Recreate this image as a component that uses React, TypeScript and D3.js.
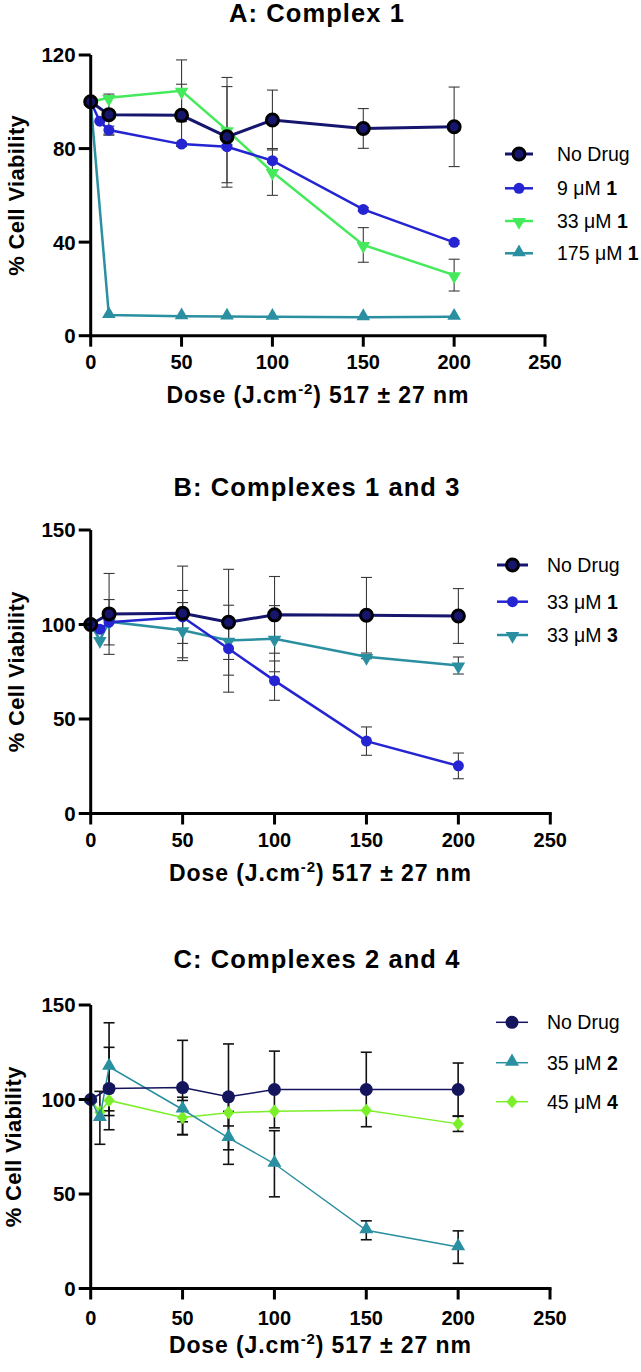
import React from 'react';
import * as d3 from 'd3';

const W = 641;
const H = 1372;
const FONT = '"Liberation Sans", Arial, Helvetica, sans-serif';

const xTicks = [0, 50, 100, 150, 200, 250];
const dosesAll = [0, 5, 10, 50, 75, 100, 150, 200];
const dosesMain = [0, 10, 50, 75, 100, 150, 200];

// Panel A: Complex 1
const aNoDrug = [100, 94.5, 94.2, 85, 92.2, 88.6, 89.3];
const aNoDrugErr = [0, 8.8, 13.3, 21.5, 12.8, 8.5, 17];
const a9uM = [100, 91.7, 87.9, 81.9, 80.8, 74.8, 54, 39.9];
const a9uMErr = [0, 0, 1.7, 0.8, 0.8, 0.8, 0.8, 0.8];
const a33uM = [100, 101.7, 104.7, 87.9, 70, 38.8, 25.9];
const a33uMErr = [0, 0, 13.2, 22.5, 10, 7.4, 6.8];
const a175uM = [100, 8.8, 8.3, 8.2, 8.1, 7.9, 8.1];
const a175uMErr = [0, 0, 0, 0, 0, 0, 0];
const aYTicks = [0, 40, 80, 120];

// Panel B: Complexes 1 and 3
const bNoDrug = [100, 105.6, 105.9, 101.2, 105.1, 104.9, 104.5];
const bNoDrugErr = [0, 21.4, 25, 28, 20.3, 20, 14.5];
const b33uM1 = [100, 97.5, 101.2, 104, 87.2, 70.3, 38.3, 25.2];
const b33uM1Err = [0, 0, 12, 14, 23, 10.4, 7.5, 6.8];
const b33uM3 = [100, 91.9, 101.5, 97, 91.5, 92.5, 82.9, 78.3];
const b33uM3Err = [0, 0, 0, 14.6, 10, 17.5, 1, 4.5];
const bYTicks = [0, 50, 100, 150];

// Panel C: Complexes 2 and 4
const cNoDrug = [100, 105.8, 106.3, 101.4, 105.3, 105.3, 105.3];
const cNoDrugErr = [0, 21.8, 25, 28, 20.3, 19.7, 14];
const c35uM2 = [100, 90.3, 117.3, 94.7, 79.7, 66, 30.8, 21.9];
const c35uM2Err = [0, 14, 23.3, 6.5, 14, 17.5, 5, 8.6];
const c45uM4 = [100, 93.3, 99.5, 90.5, 93, 93.8, 94.3, 87.1];
const c45uM4Err = [0, 0, 8, 9, 7, 0, 0, 4];
const cYTicks = [0, 50, 100, 150];

type Marker = 'circle' | 'up' | 'down' | 'diamond';

interface Series {
  name: string;
  bold?: string;
  doses: number[];
  values: number[];
  errs: number[];
  color: string;
  marker: Marker;
  size: number;
  ring?: boolean;
  width: number;
}

interface PanelSpec {
  title: string;
  top: number;
  bottom: number;
  right: number;
  yMax: number;
  yTicks: number[];
  titleY: number;
  tickLabelY: number;
  xLabelY: number;
  yLabelX: number;
  legendY: number[];
  legendX: [number, number, number];
  errColor: string;
  errWidth: number;
  series: Series[];
}

const NAVY = '#16166e';
const BLUE = '#2424d2';
const GREEN = '#45ea5c';
const TEAL = '#2a8fa0';
const LIME = '#7bf02a';

const panels: PanelSpec[] = [
  {
    title: 'A: Complex 1',
    top: 55,
    bottom: 335.7,
    right: 545,
    yMax: 120,
    yTicks: aYTicks,
    titleY: 22,
    tickLabelY: 368.5,
    xLabelY: 403,
    yLabelX: 24,
    legendY: [154, 188.3, 221, 253.3],
    legendX: [505, 533, 557],
    errColor: '#3a3a3a',
    errWidth: 1.1,
    series: [
      { name: 'No Drug', doses: dosesMain, values: aNoDrug, errs: aNoDrugErr, color: NAVY, marker: 'circle', size: 6, ring: true, width: 3 },
      { name: '9 μM ', bold: '1', doses: dosesAll, values: a9uM, errs: a9uMErr, color: BLUE, marker: 'circle', size: 5.5, width: 2.5 },
      { name: '33 μM ', bold: '1', doses: dosesMain, values: a33uM, errs: a33uMErr, color: GREEN, marker: 'down', size: 80, width: 2.5 },
      { name: '175 μM ', bold: '1', doses: dosesMain, values: a175uM, errs: a175uMErr, color: TEAL, marker: 'up', size: 80, width: 2.5 },
    ],
  },
  {
    title: 'B: Complexes 1 and 3',
    top: 530,
    bottom: 813.5,
    right: 550.3,
    yMax: 150,
    yTicks: bYTicks,
    titleY: 496,
    tickLabelY: 846.7,
    xLabelY: 881,
    yLabelX: 24,
    legendY: [565, 601.7, 635],
    legendX: [497, 528, 547],
    errColor: '#3a3a3a',
    errWidth: 1.1,
    series: [
      { name: 'No Drug', doses: dosesMain, values: bNoDrug, errs: bNoDrugErr, color: NAVY, marker: 'circle', size: 6, ring: true, width: 3 },
      { name: '33 μM ', bold: '1', doses: dosesAll, values: b33uM1, errs: b33uM1Err, color: BLUE, marker: 'circle', size: 5.5, width: 2.5 },
      { name: '33 μM ', bold: '3', doses: dosesAll, values: b33uM3, errs: b33uM3Err, color: TEAL, marker: 'down', size: 80, width: 2.5 },
    ],
  },
  {
    title: 'C: Complexes 2 and 4',
    top: 1005,
    bottom: 1288.5,
    right: 550,
    yMax: 150,
    yTicks: cYTicks,
    titleY: 968,
    tickLabelY: 1325,
    xLabelY: 1353,
    yLabelX: 21,
    legendY: [1022.3, 1062.7, 1101.7],
    legendX: [496, 528, 547],
    errColor: '#111',
    errWidth: 1.6,
    series: [
      { name: 'No Drug', doses: dosesMain, values: cNoDrug, errs: cNoDrugErr, color: '#15155e', marker: 'circle', size: 6.5, width: 1.5 },
      { name: '35 μM ', bold: '2', doses: dosesAll, values: c35uM2, errs: c35uM2Err, color: TEAL, marker: 'up', size: 85, width: 1.5 },
      { name: '45 μM ', bold: '4', doses: dosesAll, values: c45uM4, errs: c45uM4Err, color: LIME, marker: 'diamond', size: 70, width: 1.5 },
    ],
  },
];

const AXIS_LEFT = 90.7;

const MarkerShape: React.FC<{ s: Series; x: number; y: number }> = ({ s, x, y }) => {
  if (s.marker === 'circle') {
    return (
      <circle
        cx={x}
        cy={y}
        r={s.size}
        fill={s.color}
        stroke={s.ring ? '#000' : 'none'}
        strokeWidth={s.ring ? 3 : 0}
      />
    );
  }
  const type = s.marker === 'diamond' ? d3.symbolDiamond : d3.symbolTriangle;
  const path = d3.symbol().type(type).size(s.size)() ?? '';
  const rot = s.marker === 'down' ? 180 : 0;
  const dy = s.marker === 'up' ? -1 : s.marker === 'down' ? 1 : 0;
  return (
    <path
      d={path}
      fill={s.color}
      transform={`translate(${x},${y + dy}) rotate(${rot})${s.marker === 'diamond' ? ' scale(1.25,0.85)' : ''}`}
    />
  );
};

const Panel: React.FC<{ p: PanelSpec }> = ({ p }) => {
  const x = d3.scaleLinear().domain([0, 250]).range([AXIS_LEFT, p.right]);
  const y = d3.scaleLinear().domain([0, p.yMax]).range([p.bottom, p.top]);
  const line = d3
    .line<[number, number]>()
    .x((d) => x(d[0]))
    .y((d) => y(d[1]));
  const drawOrder = [...p.series].reverse();
  const midX = (AXIS_LEFT + p.right) / 2;
  const midY = (p.top + p.bottom) / 2;

  return (
    <g>
      <text
        x={317}
        y={p.titleY}
        textAnchor="middle"
        fontSize={25.5}
        fontWeight="bold"
        letterSpacing={1.1}
        fontFamily={FONT}
      >
        {p.title}
      </text>

      {/* error bars */}
      {p.series.map((s, si) =>
        s.doses.map((d, i) =>
          s.errs[i] > 0 ? (
            <g key={`e${si}-${i}`} stroke={p.errColor} strokeWidth={p.errWidth}>
              <line x1={x(d)} x2={x(d)} y1={y(s.values[i] + s.errs[i])} y2={y(s.values[i] - s.errs[i])} />
              <line x1={x(d) - 5.5} x2={x(d) + 5.5} y1={y(s.values[i] + s.errs[i])} y2={y(s.values[i] + s.errs[i])} />
              <line x1={x(d) - 5.5} x2={x(d) + 5.5} y1={y(s.values[i] - s.errs[i])} y2={y(s.values[i] - s.errs[i])} />
            </g>
          ) : null,
        ),
      )}

      {/* lines and markers */}
      {drawOrder.map((s, si) => (
        <g key={`s${si}`}>
          <path
            d={line(s.doses.map((d, i) => [d, s.values[i]] as [number, number])) ?? ''}
            fill="none"
            stroke={s.color}
            strokeWidth={s.width}
          />
          {s.doses.map((d, i) => (
            <MarkerShape key={i} s={s} x={x(d)} y={y(s.values[i])} />
          ))}
        </g>
      ))}

      {/* axes */}
      <g stroke="#000" strokeWidth={3} strokeLinecap="butt">
        <line x1={AXIS_LEFT} x2={AXIS_LEFT} y1={p.top} y2={p.bottom + 1.5} />
        <line x1={AXIS_LEFT - 1.5} x2={p.right + 1.5} y1={p.bottom} y2={p.bottom} />
        {p.yTicks.map((t) => (
          <line key={`yt${t}`} x1={AXIS_LEFT - 12} x2={AXIS_LEFT} y1={y(t)} y2={y(t)} />
        ))}
        {xTicks.map((t) => (
          <line key={`xt${t}`} x1={x(t)} x2={x(t)} y1={p.bottom} y2={p.bottom + 11} />
        ))}
      </g>
      {p.yTicks.map((t) => (
        <text
          key={`yl${t}`}
          x={AXIS_LEFT - 15}
          y={y(t)}
          dy="0.36em"
          textAnchor="end"
          fontSize={20.5}
          fontWeight="bold"
          fontFamily={FONT}
        >
          {t}
        </text>
      ))}
      {xTicks.map((t) => (
        <text
          key={`xl${t}`}
          x={x(t)}
          y={p.tickLabelY}
          textAnchor="middle"
          fontSize={20}
          fontWeight="bold"
          fontFamily={FONT}
        >
          {t}
        </text>
      ))}

      <text
        x={midX}
        y={p.xLabelY}
        textAnchor="middle"
        fontSize={23}
        fontWeight="bold"
        letterSpacing={0.9}
        fontFamily={FONT}
      >
        <tspan>Dose (J.cm</tspan>
        <tspan dy={-9} fontSize={15}>-2</tspan>
        <tspan dy={9}>) 517 ± 27 nm</tspan>
      </text>
      <text
        transform={`translate(${p.yLabelX},${midY}) rotate(-90)`}
        textAnchor="middle"
        fontSize={22}
        fontWeight="bold"
        letterSpacing={0.3}
        fontFamily={FONT}
      >
        % Cell Viability
      </text>

      {/* legend */}
      {p.series.map((s, i) => {
        const ly = p.legendY[i];
        const [x0, x1, tx] = p.legendX;
        return (
          <g key={`lg${i}`}>
            <line x1={x0} x2={x1} y1={ly} y2={ly} stroke={s.color} strokeWidth={s.width} />
            <MarkerShape s={s} x={(x0 + x1) / 2} y={ly} />
            <text x={tx} y={ly} dy="0.36em" fontSize={19.5} fontFamily={FONT}>
              {s.name}
              {s.bold && <tspan fontWeight="bold">{s.bold}</tspan>}
            </text>
          </g>
        );
      })}
    </g>
  );
};

export default function App() {
  return (
    <svg
      width={W}
      height={H}
      viewBox={`0 0 ${W} ${H}`}
      style={{ position: 'absolute', left: 0, top: 0, background: '#fff' }}
    >
      <rect width={W} height={H} fill="#fff" />
      {panels.map((p, i) => (
        <Panel key={i} p={p} />
      ))}
    </svg>
  );
}
